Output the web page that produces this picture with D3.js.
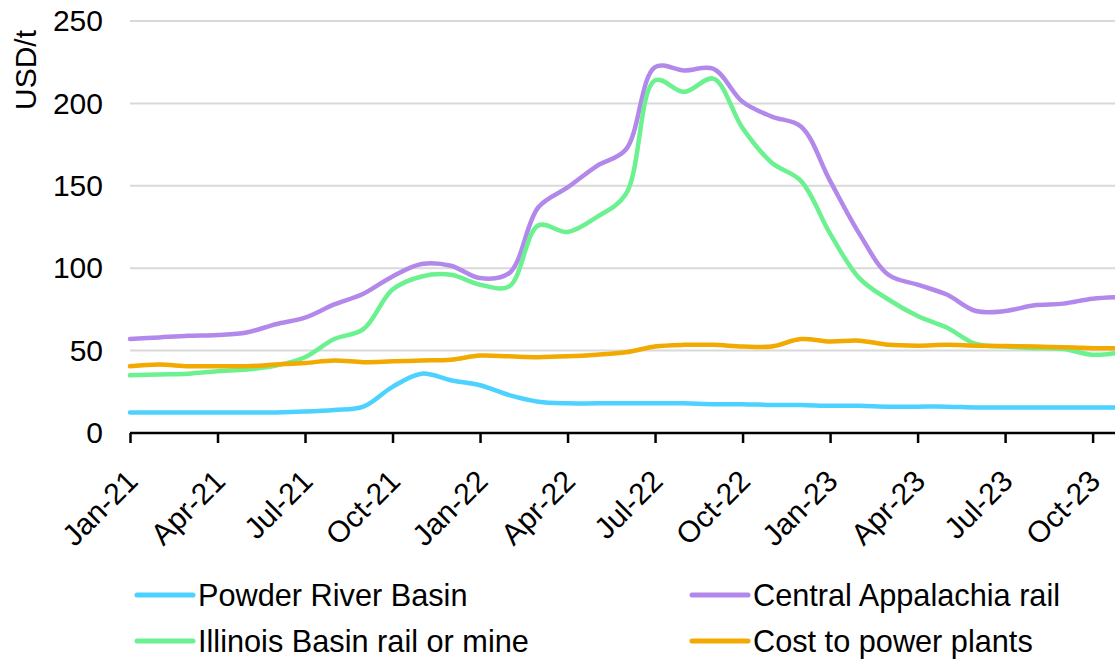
<!DOCTYPE html>
<html><head><meta charset="utf-8">
<script src="https://cdn.jsdelivr.net/npm/d3@7"></script>
<style>body{margin:0;background:#fff;} svg{display:block;} text{font-family:"Liberation Sans",Arial,sans-serif;fill:#000;}</style>
</head><body>
<svg id="c" width="1115" height="661"></svg>
<script>
const months = ["Jan-21","Feb-21","Mar-21","Apr-21","May-21","Jun-21","Jul-21","Aug-21","Sep-21","Oct-21","Nov-21","Dec-21",
"Jan-22","Feb-22","Mar-22","Apr-22","May-22","Jun-22","Jul-22","Aug-22","Sep-22","Oct-22","Nov-22","Dec-22",
"Jan-23","Feb-23","Mar-23","Apr-23","May-23","Jun-23","Jul-23","Aug-23","Sep-23","Oct-23","Nov-23"];
const tickLabels = ["Jan-21","Apr-21","Jul-21","Oct-21","Jan-22","Apr-22","Jul-22","Oct-22","Jan-23","Apr-23","Jul-23","Oct-23"];
const yTicks = [0,50,100,150,200,250];
const powderRiver = [12.5,12.5,12.5,12.5,12.5,12.5,13,14,16,28,36,32,29,23,19,18,18,18,18,18,17.5,17.5,17,17,16.5,16.5,16,16,16,15.5,15.5,15.5,15.5,15.5,15.5];
const centralApp = [57,58,59,59.5,61,66,70,78,84.5,95,102.5,101.5,94,97,137,149,162,172,222,220,221,201,192,186,153,121,96,90,84,74,74,77.5,78.5,81.5,82.5];
const illinois = [35,35.5,36,37.5,38.5,41,46,57,63,87,95,96,90,89,126,122,131,145,214,207,215,185,164,153,121,94,81,71,64,54,52.5,51.5,51,47.5,49];
const costPlants = [40.5,41.5,40.5,40.5,40.5,41.5,42.5,44,43,43.5,44,44.5,47,46.5,46,46.5,47.5,49,52.5,53.5,53.5,52.5,52.5,57,55.5,56,53.5,53,53.5,53,52.8,52.5,52,51.5,51.5];
const seriesNames = ["Powder River Basin","Central Appalachia rail","Illinois Basin rail or mine","Cost to power plants"];
const seriesColors = ["#4dd2ff","#b388eb","#6cf190","#f2a900"];

const series = [
  {name:seriesNames[0], values:powderRiver, color:seriesColors[0]},
  {name:seriesNames[1], values:centralApp, color:seriesColors[1]},
  {name:seriesNames[2], values:illinois, color:seriesColors[2]},
  {name:seriesNames[3], values:costPlants, color:seriesColors[3]}
];

const FS = "30px";
const LFS = "30.7px";
const svg = d3.select("#c");
const x = d3.scalePoint().domain(months).range([130, 130 + 34*29.17]);
const y = d3.scaleLinear().domain([0,250]).range([433,21]);

// gridlines
svg.append("g").selectAll("line").data(yTicks.filter(d=>d>0)).join("line")
  .attr("x1",130).attr("x2",1115).attr("y1",d=>y(d)).attr("y2",d=>y(d))
  .attr("stroke","#d9d9d9").attr("stroke-width",2);

// y axis labels
const yAxis = d3.axisLeft(y).tickValues(yTicks).tickSize(0).tickPadding(0);
const gy = svg.append("g").attr("transform","translate(103,0)").call(yAxis);
gy.select(".domain").remove();
gy.selectAll("text").style("font-size",FS).attr("font-family","Liberation Sans, Arial, sans-serif").attr("fill","#000");

// y title
svg.append("text").attr("transform","translate(36,70) rotate(-90)").attr("text-anchor","middle")
  .style("font-size",FS).text("USD/t");

// lines
const line = d3.line().x((d,i)=>x(months[i])).y(d=>y(d)).curve(d3.curveCatmullRom.alpha(0.5));
svg.append("clipPath").attr("id","clp").append("rect").attr("x",0).attr("y",0).attr("width",1115).attr("height",661);
svg.append("g").attr("clip-path","url(#clp)").selectAll("path").data(series).join("path")
  .attr("d",d=>line(d.values)).attr("fill","none").attr("stroke",d=>d.color)
  .attr("stroke-width",4.5).attr("stroke-linejoin","round").attr("stroke-linecap","round");

// x axis
const xAxis = d3.axisBottom(x).tickValues(tickLabels).tickSize(10).tickPadding(4);
const gx = svg.append("g").attr("transform","translate(0,433)").call(xAxis);
gx.select(".domain").attr("d","M130,0H1115").attr("stroke","#000").attr("stroke-width",2.5);
gx.selectAll(".tick line").attr("stroke","#000").attr("stroke-width",2.5);
gx.selectAll(".tick text").style("font-size",FS).attr("fill","#000")
  .attr("text-anchor","end").attr("dy",null).attr("y",0)
  .attr("transform","translate(9,50) rotate(-45)");

// legend
const legendPos = [[137,595],[692,595],[137,641],[692,641]];
const order = [0,1,2,3];
const lg = svg.append("g").selectAll("g").data(order).join("g")
  .attr("transform",i=>`translate(${legendPos[i][0]},${legendPos[i][1]})`);
lg.append("line").attr("x1",0).attr("x2",56).attr("y1",0).attr("y2",0)
  .attr("stroke",i=>series[i].color).attr("stroke-width",5).attr("stroke-linecap","round");
lg.append("text").attr("x",61).attr("y",0).attr("dy","0.35em").style("font-size",LFS).text(i=>series[i].name);
</script>
</body></html>
